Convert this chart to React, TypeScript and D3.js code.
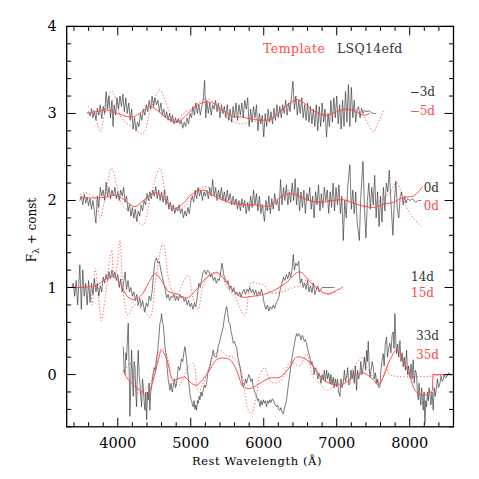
import React from "react";
import * as d3 from "d3";

type P = [number, number];

const offsets = [3, 2, 1, 0];
const obsPhases = ["\u22123d", "0d", "14d", "33d"];
const tplPhases = ["\u22125d", "0d", "15d", "35d"];
const xTicks = [4000, 5000, 6000, 7000, 8000];
const yTicks = [0, 1, 2, 3, 4];
const legendTemplate = "Template";
const legendObject = "LSQ14efd";
const xTitle = "Rest Wavelength (\u00C5)";

// ---- observed spectra (flux minus offset) ----
const obsM3: P[] = [[3575,0],[3600,0.02],[3620,-0.03],[3640,0.05],[3660,-0.05],[3680,0.03],[3700,-0.08],[3720,0.06],[3740,-0.02],[3760,0.1],[3780,-0.06],[3800,0.08],[3820,0],[3840,0.25],[3860,0.05],[3880,0.2],[3900,-0.05],[3920,0.15],[3935,-0.15],[3950,0.1],[3970,-0.02],[3990,0.18],[4010,0.05],[4030,0.2],[4050,0.08],[4070,0.22],[4090,0.02],[4110,0.18],[4130,0],[4150,0.12],[4170,-0.08],[4190,0.05],[4210,-0.18],[4230,-0.05],[4250,-0.2],[4270,-0.1],[4290,-0.15],[4310,0],[4330,-0.08],[4350,0.05],[4370,-0.02],[4390,0.1],[4410,0.02],[4430,0.15],[4450,0.05],[4470,0.2],[4490,0.08],[4510,0.18],[4530,0.1],[4550,0.15],[4570,0.02],[4590,0.12],[4610,-0.02],[4630,0.05],[4650,-0.05],[4670,0.02],[4690,-0.08],[4710,0],[4730,-0.1],[4750,-0.02],[4770,-0.12],[4790,-0.05],[4810,-0.11],[4830,-0.06],[4850,-0.12],[4870,-0.08],[4890,-0.17],[4910,-0.1],[4930,-0.15],[4950,-0.05],[4970,-0.12],[4990,0],[5010,-0.05],[5030,0.08],[5050,-0.02],[5070,0.12],[5090,0],[5110,0.1],[5130,-0.02],[5150,0.08],[5170,0.15],[5190,0.38],[5205,-0.05],[5220,0.15],[5240,0],[5260,0.12],[5280,-0.02],[5300,0.1],[5320,0.05],[5340,0.15],[5360,0.02],[5380,0.12],[5400,-0.05],[5420,0.1],[5440,0],[5460,0.08],[5480,-0.05],[5500,0.1],[5520,-0.08],[5540,0.05],[5560,-0.1],[5580,0.08],[5600,-0.05],[5620,0.12],[5640,-0.08],[5660,0.1],[5680,-0.02],[5700,0.12],[5720,-0.05],[5740,0.15],[5760,0.05],[5780,0.18],[5800,-0.15],[5820,0.05],[5840,-0.1],[5860,0.08],[5880,-0.05],[5900,0.1],[5920,-0.2],[5940,0],[5960,-0.12],[5980,-0.02],[6000,-0.27],[6020,0],[6040,-0.15],[6060,0.05],[6080,-0.1],[6100,0.02],[6120,-0.12],[6140,0.06],[6160,-0.08],[6180,0.1],[6200,-0.05],[6220,0.08],[6240,-0.05],[6260,0.1],[6280,0],[6300,0.15],[6320,-0.02],[6340,0.12],[6360,0.02],[6380,0.2],[6400,0.37],[6420,0.05],[6440,0.2],[6460,-0.02],[6480,0.15],[6500,0],[6520,0.18],[6540,-0.05],[6560,0.1],[6580,-0.08],[6600,0.12],[6620,-0.1],[6640,0.08],[6660,-0.12],[6680,0.05],[6700,-0.15],[6720,0.1],[6740,-0.2],[6760,0.08],[6780,-0.15],[6800,0.12],[6820,-0.1],[6840,0.05],[6860,-0.27],[6880,0],[6900,-0.15],[6920,0.15],[6940,-0.1],[6960,0.18],[6980,-0.05],[7000,0.2],[7020,-0.12],[7040,0.1],[7060,-0.18],[7080,0.15],[7100,-0.15],[7120,0.25],[7140,-0.1],[7160,0.33],[7180,-0.15],[7200,0.3],[7220,-0.05],[7240,0.15],[7260,-0.1],[7280,0.05],[7300,0.08],[7320,-0.05],[7340,0.06],[7360,0],[7380,0.04],[7400,0.02],[7440,0.03],[7500,0],[7540,0]];

const obs0: P[] = [[3480,0],[3500,0.05],[3520,-0.05],[3540,0.07],[3560,-0.03],[3580,0.04],[3600,-0.06],[3620,0.02],[3640,-0.1],[3660,0],[3680,-0.12],[3700,-0.26],[3720,0.05],[3740,-0.08],[3760,0.15],[3780,0.05],[3800,0.12],[3820,0],[3840,0.21],[3860,0.05],[3880,0.15],[3900,0.02],[3920,0.12],[3940,0.05],[3960,0.15],[3980,0.02],[4000,0.1],[4020,0],[4040,0.12],[4060,0.05],[4080,0.15],[4100,-0.02],[4120,0.05],[4140,-0.12],[4160,-0.05],[4180,-0.18],[4200,-0.08],[4220,-0.2],[4240,-0.1],[4260,-0.24],[4280,-0.12],[4300,-0.18],[4320,-0.05],[4340,-0.12],[4360,0],[4380,-0.05],[4400,0.08],[4420,0],[4440,0.1],[4460,0.02],[4480,0.12],[4500,0.05],[4520,0.16],[4540,0.02],[4560,0.12],[4580,0],[4600,0.1],[4620,-0.02],[4640,0.12],[4660,-0.05],[4680,0.05],[4700,-0.1],[4720,-0.02],[4740,-0.12],[4760,-0.05],[4780,-0.15],[4800,-0.08],[4820,-0.12],[4840,-0.05],[4860,-0.15],[4880,-0.1],[4900,-0.2],[4920,-0.12],[4940,-0.18],[4960,-0.08],[4980,-0.15],[5000,-0.02],[5020,0.05],[5040,-0.02],[5060,0.12],[5080,0.02],[5100,0.15],[5120,0.05],[5140,0.12],[5160,0],[5180,0.1],[5200,0.05],[5220,0.12],[5240,0.02],[5260,0.15],[5280,0.05],[5300,0.24],[5320,0.05],[5340,0.15],[5360,0],[5380,0.12],[5400,0.02],[5420,0.15],[5440,0],[5460,0.1],[5480,-0.02],[5500,0.12],[5520,0],[5540,0.08],[5560,-0.05],[5580,0.05],[5600,-0.05],[5620,0.02],[5640,-0.1],[5660,0],[5680,-0.12],[5700,0.02],[5720,-0.08],[5740,0],[5760,-0.15],[5780,-0.02],[5800,-0.12],[5820,0.05],[5840,-0.08],[5860,0.12],[5880,-0.05],[5900,0.08],[5920,-0.12],[5940,0.05],[5960,-0.15],[5980,-0.05],[6010,-0.24],[6030,0],[6050,-0.12],[6070,0.05],[6090,-0.15],[6110,0.02],[6130,-0.1],[6150,0.08],[6170,-0.05],[6190,0],[6210,-0.12],[6230,0.24],[6250,-0.05],[6270,0.15],[6290,0],[6310,0.18],[6330,-0.05],[6350,0.1],[6370,-0.02],[6390,0.2],[6410,0],[6430,0.25],[6450,-0.05],[6470,0.15],[6490,-0.12],[6510,0.1],[6530,-0.08],[6550,0.12],[6570,-0.15],[6590,0.08],[6610,0],[6630,0.15],[6650,-0.1],[6670,0.05],[6690,-0.2],[6710,0.1],[6730,-0.05],[6750,0.18],[6770,-0.12],[6790,0.08],[6810,-0.08],[6830,0.15],[6850,0],[6870,0.12],[6890,-0.15],[6910,0.1],[6930,-0.08],[6950,0.2],[6970,-0.12],[6990,0.15],[7010,-0.05],[7030,0.18],[7050,-0.15],[7070,0.05],[7090,-0.46],[7110,0],[7130,-0.2],[7150,0.15],[7180,0.41],[7200,-0.1],[7220,0.12],[7240,-0.15],[7260,0.1],[7280,-0.25],[7310,-0.46],[7330,0.05],[7360,0.45],[7380,-0.1],[7400,-0.43],[7420,0],[7440,0.2],[7460,-0.1],[7480,0.15],[7500,-0.05],[7520,0.29],[7540,-0.2],[7560,0.1],[7580,-0.3],[7600,0.05],[7620,-0.25],[7640,0.15],[7660,-0.12],[7680,0.2],[7700,0.1],[7720,0.35],[7745,-0.05],[7770,-0.4],[7790,0],[7810,0.22],[7830,-0.1],[7850,-0.2],[7870,0.05],[7890,0.1],[7910,-0.05],[7930,0.05],[7950,-0.03],[7970,0.02],[8000,0],[8040,0.02],[8080,-0.02],[8120,0],[8160,0]];

const obs14: P[] = [[3370,0],[3390,0.05],[3410,-0.1],[3430,0.08],[3450,-0.2],[3470,0.1],[3480,0.26],[3500,-0.25],[3520,0.2],[3540,-0.1],[3560,0.05],[3580,-0.2],[3600,0.08],[3620,-0.17],[3640,0.05],[3660,-0.08],[3680,0.1],[3700,-0.05],[3720,0.05],[3740,-0.1],[3760,0.02],[3780,-0.05],[3800,0.12],[3820,0.05],[3840,0.15],[3860,0.08],[3880,0.18],[3900,0.1],[3920,0.2],[3940,0.12],[3960,0.18],[3980,0.08],[4000,0.15],[4020,0],[4040,0.1],[4060,-0.05],[4080,0.05],[4100,0.18],[4120,-0.02],[4140,0.08],[4160,-0.05],[4180,0],[4200,-0.1],[4220,-0.05],[4240,-0.15],[4260,-0.08],[4280,-0.2],[4300,-0.12],[4320,-0.22],[4340,-0.15],[4370,-0.28],[4390,-0.18],[4410,-0.22],[4430,-0.1],[4450,-0.15],[4470,-0.05],[4490,0.16],[4510,0.3],[4530,0.34],[4550,0.28],[4570,0.3],[4590,0.2],[4610,0.12],[4630,0.05],[4650,-0.02],[4670,-0.12],[4690,-0.08],[4710,-0.15],[4730,-0.1],[4750,-0.12],[4770,-0.08],[4790,-0.15],[4810,-0.1],[4830,-0.15],[4850,-0.08],[4870,-0.12],[4890,-0.1],[4910,-0.16],[4930,-0.12],[4950,-0.2],[4970,-0.15],[4990,-0.22],[5010,-0.18],[5030,-0.25],[5050,-0.18],[5070,-0.22],[5090,-0.1],[5110,0.05],[5130,0],[5150,0.1],[5170,0.18],[5190,0.2],[5210,0.15],[5230,0.2],[5250,0.18],[5270,0.12],[5290,0.15],[5310,0.08],[5330,0.12],[5350,0.05],[5370,0.1],[5390,0.08],[5410,0.18],[5430,0.28],[5450,0.15],[5470,0.1],[5490,0.05],[5510,0.08],[5530,-0.02],[5550,0.02],[5570,-0.05],[5590,0],[5610,-0.08],[5630,-0.05],[5650,-0.1],[5670,-0.05],[5690,-0.11],[5710,-0.05],[5730,-0.02],[5750,-0.08],[5770,-0.02],[5790,-0.05],[5810,0],[5830,-0.06],[5850,-0.02],[5870,-0.08],[5890,-0.03],[5910,-0.1],[5930,-0.05],[5950,-0.08],[5970,-0.02],[5990,-0.1],[6010,-0.2],[6030,-0.25],[6050,-0.2],[6070,-0.27],[6090,-0.22],[6110,-0.25],[6130,-0.2],[6150,-0.24],[6170,-0.18],[6190,-0.15],[6210,-0.1],[6230,0],[6250,0.05],[6270,0.12],[6290,0.08],[6310,0.15],[6330,0.1],[6350,0.18],[6370,0.12],[6390,0.22],[6405,0.38],[6420,0.2],[6440,0.28],[6460,0.25],[6480,0.3],[6500,0.05],[6520,0.1],[6540,0],[6560,0.05],[6580,-0.02],[6600,0.08],[6620,-0.05],[6640,0.02],[6660,-0.06],[6680,0.05],[6700,-0.08],[6720,-0.02],[6740,0.02],[6760,-0.05],[6800,0],[6840,0],[6880,0],[6920,0],[6970,0]];

const obs33: P[] = [[4075,0.32],[4087,0.05],[4098,0],[4110,0.25],[4120,0.17],[4132,0.4],[4143,0.59],[4155,0.1],[4166,-0.48],[4178,-0.1],[4189,0.28],[4200,0],[4212,-0.25],[4224,0.15],[4235,0.09],[4246,-0.2],[4258,-0.37],[4269,0.05],[4280,0.28],[4292,0],[4303,-0.1],[4315,-0.25],[4326,-0.37],[4338,-0.05],[4349,-0.14],[4360,-0.3],[4372,-0.41],[4384,-0.2],[4395,-0.52],[4407,-0.2],[4418,-0.29],[4429,-0.1],[4440,-0.41],[4452,-0.2],[4463,-0.14],[4475,-0.05],[4486,0.01],[4500,0.08],[4515,0.05],[4532,0.18],[4550,0.3],[4565,0.45],[4577,0.59],[4590,0.62],[4600,0.7],[4612,0.6],[4623,0.57],[4635,0.45],[4646,0.32],[4658,0.25],[4669,0.17],[4680,0.05],[4691,-0.06],[4703,-0.12],[4714,-0.18],[4730,-0.1],[4745,-0.2],[4760,-0.14],[4775,-0.05],[4790,-0.15],[4806,-0.1],[4818,0],[4829,0.09],[4850,0.05],[4874,0.18],[4890,0.15],[4905,0.25],[4920,0.32],[4932,0.25],[4943,0.17],[4955,0.05],[4966,-0.03],[4977,-0.12],[4988,-0.22],[5000,-0.28],[5012,-0.3],[5023,-0.35],[5034,-0.37],[5046,-0.3],[5057,-0.4],[5068,-0.35],[5080,-0.41],[5092,-0.3],[5103,-0.33],[5115,-0.25],[5126,-0.29],[5140,-0.2],[5155,-0.25],[5171,-0.18],[5185,-0.12],[5200,-0.15],[5217,-0.1],[5230,0],[5245,0.05],[5263,0.09],[5280,0.18],[5294,0.22],[5308,0.28],[5320,0.22],[5337,0.2],[5354,0.2],[5370,0.3],[5385,0.35],[5400,0.39],[5415,0.45],[5430,0.5],[5445,0.55],[5460,0.65],[5475,0.72],[5491,0.78],[5505,0.72],[5520,0.6],[5537,0.59],[5550,0.5],[5565,0.45],[5582,0.36],[5600,0.38],[5615,0.33],[5628,0.32],[5645,0.2],[5660,0.15],[5674,0.09],[5690,0],[5705,-0.08],[5719,-0.14],[5735,-0.12],[5750,-0.05],[5765,-0.1],[5780,-0.05],[5795,0],[5811,-0.03],[5825,-0.08],[5840,-0.05],[5857,-0.14],[5870,-0.18],[5885,-0.22],[5902,-0.25],[5915,-0.3],[5930,-0.28],[5948,-0.37],[5962,-0.3],[5978,-0.35],[5994,-0.29],[6008,-0.33],[6023,-0.3],[6039,-0.37],[6055,-0.3],[6070,-0.33],[6085,-0.29],[6100,-0.32],[6115,-0.28],[6131,-0.29],[6145,-0.33],[6160,-0.35],[6176,-0.37],[6190,-0.35],[6205,-0.4],[6222,-0.41],[6235,-0.38],[6250,-0.43],[6268,-0.45],[6280,-0.4],[6295,-0.35],[6313,-0.29],[6325,-0.2],[6340,-0.1],[6359,0.01],[6372,0.1],[6388,0.2],[6405,0.28],[6420,0.35],[6435,0.42],[6450,0.47],[6465,0.44],[6480,0.47],[6496,0.45],[6510,0.4],[6525,0.45],[6542,0.43],[6555,0.38],[6570,0.4],[6587,0.36],[6600,0.3],[6615,0.25],[6633,0.2],[6645,0.12],[6660,0.15],[6679,0.09],[6690,0],[6705,0.08],[6724,0.05],[6740,-0.05],[6755,0.02],[6770,-0.03],[6785,-0.1],[6800,0],[6816,-0.06],[6830,0.05],[6845,-0.08],[6861,0.05],[6875,-0.05],[6890,0.02],[6907,-0.1],[6920,0],[6935,-0.12],[6953,-0.03],[6965,-0.15],[6980,-0.05],[6998,-0.14],[7010,-0.05],[7025,-0.2],[7044,-0.25],[7058,-0.05],[7073,-0.15],[7090,-0.1],[7105,0.05],[7120,-0.08],[7135,-0.03],[7150,0.08],[7165,-0.12],[7181,-0.1],[7195,0.05],[7210,-0.05],[7227,0.05],[7240,-0.1],[7255,0.1],[7272,-0.18],[7285,0.05],[7300,-0.05],[7318,0.01],[7330,0.15],[7345,0],[7364,0.09],[7380,0.2],[7395,0.05],[7409,0.28],[7420,0.15],[7432,0.38],[7445,0.1],[7455,-0.03],[7470,0.05],[7485,0.15],[7500,0.09],[7515,-0.05],[7530,0.02],[7546,-0.1],[7560,-0.05],[7575,-0.15],[7592,-0.14],[7605,0.05],[7620,0.15],[7637,0.24],[7650,0.1],[7665,0.35],[7683,0.43],[7695,0.2],[7710,0.3],[7729,0.36],[7742,0.25],[7758,0.45],[7774,0.49],[7785,0.3],[7797,0.7],[7808,0.4],[7820,0.24],[7835,0.35],[7850,0.2],[7866,0.39],[7880,0.15],[7895,0.25],[7911,0.09],[7925,0.2],[7940,0.05],[7957,0.28],[7970,0],[7985,0.1],[8003,-0.03],[8018,0.12],[8033,-0.05],[8048,0.17],[8062,-0.1],[8078,0.05],[8094,0.01],[8105,-0.2],[8117,-0.29],[8128,-0.1],[8140,-0.25],[8152,-0.35],[8163,-0.15],[8175,-0.3],[8185,-0.41],[8197,-0.2],[8208,-0.56],[8220,-0.3],[8231,-0.37],[8243,-0.2],[8255,-0.3],[8266,-0.15],[8277,-0.22],[8290,-0.35],[8305,-0.2],[8322,-0.41],[8335,-0.15],[8350,-0.25],[8368,-0.14],[8380,-0.05],[8395,-0.15],[8414,-0.1],[8430,-0.02],[8445,-0.08],[8459,-0.06],[8475,0],[8490,-0.04],[8505,-0.03],[8520,0],[8535,0.02],[8550,0],[8575,0]];

// ---- templates, solid (phase as labelled) ----
const tplM5: P[] = [[3590,0],[3700,0.02],[3850,0.04],[4000,0],[4100,-0.03],[4210,-0.04],[4300,0],[4440,0.08],[4550,0.03],[4650,-0.04],[4800,-0.1],[4900,-0.05],[5000,0.03],[5100,0.1],[5200,0.13],[5300,0.12],[5400,0.06],[5500,0],[5600,-0.04],[5700,-0.04],[5800,-0.06],[5900,-0.07],[6000,-0.08],[6100,-0.07],[6200,0],[6300,0.08],[6450,0.16],[6550,0.12],[6700,0.02],[6860,-0.02],[7000,0.02],[7130,0.05],[7250,0.02],[7380,-0.02],[7450,0]];
const tpl0: P[] = [[3480,0.03],[3600,0.03],[3700,0.03],[3850,0.04],[3950,0.06],[4050,0.03],[4235,-0.07],[4350,0],[4510,0.09],[4600,0.05],[4780,-0.09],[4900,-0.03],[5000,0.06],[5170,0.12],[5300,0.06],[5450,0],[5600,-0.04],[5800,-0.05],[5950,-0.05],[6060,-0.07],[6200,0.02],[6360,0.08],[6500,0.04],[6650,-0.01],[6810,-0.02],[6950,0],[7090,0.01],[7300,-0.05],[7500,-0.08],[7650,-0.04],[7780,-0.02],[7870,0.02],[7950,0.04],[8050,0.05],[8120,0.1],[8180,0.16]];
const tpl15: P[] = [[3370,0],[3500,0],[3600,0.01],[3700,0.02],[3800,0.08],[3935,0.13],[4030,0.05],[4140,-0.11],[4230,-0.14],[4330,-0.08],[4420,0.05],[4510,0.16],[4600,0.08],[4700,-0.05],[4800,-0.07],[4945,-0.12],[5050,-0.05],[5200,0.1],[5355,0.17],[5500,0.05],[5600,-0.05],[5700,-0.11],[5850,-0.1],[6000,-0.08],[6150,-0.03],[6300,0.05],[6490,0.18],[6650,0.05],[6860,-0.07],[6980,-0.04],[7090,0.01]];
const tpl35: P[] = [[4075,0.05],[4120,-0.03],[4212,-0.12],[4303,-0.18],[4395,-0.24],[4486,-0.06],[4555,0.17],[4600,0.28],[4669,0.18],[4760,-0.06],[4851,-0.04],[4920,-0.03],[5011,-0.1],[5080,-0.12],[5217,0],[5354,0.17],[5445,0.19],[5537,0.17],[5628,0.05],[5719,-0.14],[5811,-0.16],[5948,-0.1],[6085,-0.04],[6222,-0.03],[6359,0.09],[6450,0.2],[6587,0.17],[6724,0.04],[6816,-0.06],[6907,-0.1],[7044,-0.12],[7181,-0.06],[7272,0],[7364,0.02],[7500,-0.06],[7569,-0.12],[7637,-0.03],[7729,0.17],[7820,0.28],[7911,0.17],[8003,-0.03],[8071,-0.18],[8140,-0.23],[8230,-0.23],[8290,-0.2],[8313,-0.18]];
const tpl35Tail: P[] = [[8313,-0.18],[8318,0],[8600,0]];

// ---- templates, dotted ----
const dotM5: P[] = [[3590,0.08],[3650,0.05],[3700,-0.05],[3760,-0.21],[3820,0],[3915,0.26],[3980,0.15],[4050,-0.05],[4190,-0.15],[4345,-0.23],[4450,0.05],[4575,0.27],[4650,0.15],[4780,-0.1],[4900,0],[5000,0.05],[5100,0.12],[5215,0.17],[5350,0.1],[5500,-0.05],[5670,-0.12],[5800,-0.1],[5950,-0.08],[6100,-0.05],[6250,0.05],[6400,0.13],[6500,0.14],[6650,0.05],[6850,-0.02],[7000,0.02],[7150,0.05],[7300,0.02],[7380,-0.05],[7450,-0.15],[7500,-0.21],[7560,-0.12],[7650,0.05]];
const dot0: P[] = [[3480,0.07],[3550,0.09],[3620,0.07],[3700,0],[3760,-0.2],[3830,0.05],[3915,0.37],[3990,0.15],[4060,-0.05],[4190,-0.15],[4345,-0.28],[4450,0.05],[4575,0.37],[4650,0.1],[4720,-0.1],[4800,-0.12],[4900,-0.08],[5000,0.02],[5100,0.12],[5215,0.16],[5350,0.07],[5450,0.02],[5600,-0.02],[5800,-0.05],[5950,-0.07],[6060,-0.1],[6200,0.02],[6360,0.12],[6500,0.05],[6700,-0.01],[6900,0],[7100,0],[7300,-0.05],[7450,-0.06],[7600,0],[7720,0.08],[7820,0.2],[7900,0.05],[7970,-0.1],[8050,-0.2],[8160,-0.3]];
const dot15: P[] = [[3370,0],[3550,0],[3620,-0.05],[3650,-0.2],[3690,0.22],[3730,-0.05],[3775,-0.38],[3830,-0.1],[3915,0.43],[3950,0.1],[3990,0.25],[4030,0.54],[4070,0],[4140,-0.32],[4230,-0.2],[4330,-0.24],[4440,-0.34],[4520,0.1],[4620,0.51],[4700,0.08],[4780,-0.1],[4830,-0.06],[4960,0.14],[5040,-0.15],[5100,-0.25],[5170,0.02],[5260,0.15],[5400,0.17],[5500,0],[5600,-0.1],[5740,-0.32],[5830,0.06],[5900,0.05],[6000,0.03],[6100,-0.06],[6250,-0.05],[6400,0],[6500,0.02],[6620,0.1],[6730,-0.02],[6900,-0.08],[7000,-0.04]];
const dot35: P[] = [[4098,0.04],[4166,0.13],[4235,-0.06],[4280,-0.22],[4349,-0.18],[4440,-0.1],[4509,0.09],[4577,0.28],[4623,0.3],[4691,0.17],[4760,-0.1],[4829,-0.12],[4897,-0.06],[4966,0.09],[5034,0.13],[5103,-0.2],[5171,-0.1],[5308,0.2],[5400,0.28],[5491,0.22],[5582,0.2],[5674,0.09],[5742,-0.22],[5788,-0.41],[5834,-0.45],[5902,-0.22],[5948,0],[6016,0.08],[6085,-0.07],[6176,-0.1],[6268,-0.03],[6359,0.14],[6496,0.1],[6587,0.24],[6679,-0.03],[6770,-0.1],[6861,-0.18],[6953,-0.14],[7090,-0.06],[7181,0.02],[7272,0.13],[7341,0.2],[7432,0.05],[7500,-0.03],[7592,-0.1],[7683,0.09],[7729,0],[8600,0]];

const observed = [obsM3, obs0, obs14, obs33];
const templates = [tplM5, tpl0, tpl15, tpl35];
const dotted = [dotM5, dot0, dot15, dot35];

const RED = "#ff4a4a";
const DARK = "#333333";
const FONT = "'DejaVu Serif', serif";

// label anchor positions (right edge x, baselines)
const labelRight = [435, 439, 434, 439];
const labelObsY = [96, 192, 281, 340];
const labelTplY = [115, 210, 297, 359];

export default function App() {
  const left = 66.7, right = 453.5, top = 26.4, bottom = 426.8;
  const x = d3.scaleLinear().domain([3300, 8600]).range([left, right]);
  const y = d3.scaleLinear().domain([-0.6, 4]).range([bottom, top]);

  const mk = (off: number, curve: d3.CurveFactory) =>
    d3.line<P>().x((d) => x(d[0])).y((d) => y(d[1] + off)).curve(curve);

  const xMinor = d3.range(3400, 8601, 200).filter((v) => v % 1000 !== 0);
  const yMinor = d3.range(-6, 41, 2).map((v) => v / 10).filter((v) => Math.abs(v - Math.round(v)) > 1e-6);
  const MAJ = 9, MIN = 4.5;

  return (
    <svg width={479} height={479} style={{ display: "block", position: "absolute", left: 0, top: 0, background: "#fff" }}>
      <defs>
        <clipPath id="plotclip">
          <rect x={left} y={top} width={right - left} height={bottom - top} />
        </clipPath>
      </defs>
      <g clipPath="url(#plotclip)" fill="none">
        {offsets.map((off, i) => (
          <g key={"s" + i}>
            <path d={mk(off, d3.curveCatmullRom)(dotted[i]) || ""} stroke={RED} strokeOpacity={0.85} strokeWidth={1} strokeDasharray="1.3 2" />
            <path d={mk(off, d3.curveLinear)(observed[i]) || ""} stroke={DARK} strokeWidth={0.65} />
            <path d={mk(off, d3.curveCatmullRom)(templates[i]) || ""} stroke={RED} strokeWidth={1} />
            {i === 3 && <path d={mk(off, d3.curveLinear)(tpl35Tail) || ""} stroke={RED} strokeWidth={1} />}
          </g>
        ))}
      </g>
      {/* frame */}
      <rect x={left} y={top} width={right - left} height={bottom - top} fill="none" stroke="#000" strokeWidth={1.3} />
      {/* ticks */}
      <g stroke="#000" strokeWidth={1}>
        {xTicks.map((t) => (
          <g key={"xt" + t}>
            <line x1={x(t)} x2={x(t)} y1={bottom} y2={bottom - MAJ} />
            <line x1={x(t)} x2={x(t)} y1={top} y2={top + MAJ} />
          </g>
        ))}
        {xMinor.map((t) => (
          <g key={"xm" + t}>
            <line x1={x(t)} x2={x(t)} y1={bottom} y2={bottom - MIN} />
            <line x1={x(t)} x2={x(t)} y1={top} y2={top + MIN} />
          </g>
        ))}
        {yTicks.map((t) => (
          <g key={"yt" + t}>
            <line x1={left} x2={left + MAJ} y1={y(t)} y2={y(t)} />
            <line x1={right} x2={right - MAJ} y1={y(t)} y2={y(t)} />
          </g>
        ))}
        {yMinor.map((t) => (
          <g key={"ym" + t}>
            <line x1={left} x2={left + MIN} y1={y(t)} y2={y(t)} />
            <line x1={right} x2={right - MIN} y1={y(t)} y2={y(t)} />
          </g>
        ))}
      </g>
      {/* tick labels */}
      <g fontFamily={FONT} fontSize={14.5} fill="#000">
        {xTicks.map((t) => (
          <text key={"xl" + t} x={x(t)} y={448} textAnchor="middle">{t}</text>
        ))}
        {yTicks.map((t) => (
          <text key={"yl" + t} x={52} y={y(t) + 5} textAnchor="middle">{t}</text>
        ))}
      </g>
      {/* axis titles */}
      <text x={257} y={465} textAnchor="middle" fontFamily={FONT} fontSize={11.5} letterSpacing={0.6} fill="#000">{xTitle}</text>
      <text transform="translate(36,230) rotate(-90)" textAnchor="middle" fontFamily={FONT} fontSize={12} fill="#000">
        F<tspan fontSize={9} dy={3}>{"\u03BB"}</tspan><tspan dy={-3}>{" + const"}</tspan>
      </text>
      {/* legend */}
      <text x={263} y={53} fontFamily={FONT} fontSize={12.5} letterSpacing={0.5} fill={RED}>{legendTemplate}</text>
      <text x={337} y={53} fontFamily={FONT} fontSize={12.5} letterSpacing={0.3} fill={DARK}>{legendObject}</text>
      {/* phase labels */}
      <g fontFamily={FONT} fontSize={12} textAnchor="end">
        {offsets.map((_, i) => (
          <g key={"pl" + i}>
            <text x={labelRight[i]} y={labelObsY[i]} fill={DARK}>{obsPhases[i]}</text>
            <text x={labelRight[i]} y={labelTplY[i]} fill={RED}>{tplPhases[i]}</text>
          </g>
        ))}
      </g>
    </svg>
  );
}
